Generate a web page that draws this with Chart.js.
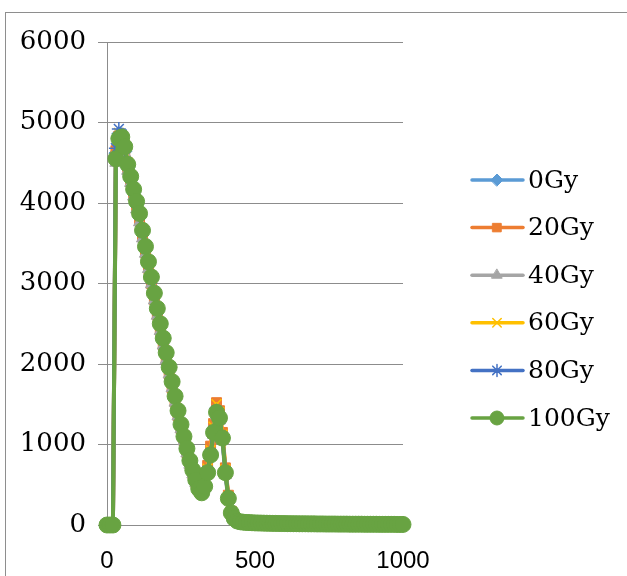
<!DOCTYPE html>
<html>
<head>
<meta charset="utf-8">
<script src="https://cdn.jsdelivr.net/npm/chart.js@4/dist/chart.umd.min.js"></script>
<style>
  html, body { margin: 0; padding: 0; background: #fff; }
  #wrap { position: relative; width: 627px; height: 576px; overflow: hidden; }
  #frame { position: absolute; left: 5px; top: 12px; width: 700px; height: 700px; border: 1px solid #8e8e8e; box-sizing: border-box; }
  #c { position: absolute; left: 0; top: 0; }
</style>
</head>
<body>
<div id="wrap">
  <div id="frame"></div>
  <canvas id="c" width="627" height="576"></canvas>
</div>
<script>
// ---- data ----
const xValues = [
  0,10,20,30,40,50,60,70,80,90,
  100,110,120,130,140,150,160,170,180,190,
  200,210,220,230,240,250,260,270,280,290,
  300,310,320,330,340,350,360,370,380,390,
  400,410,420,430,440,450,460,470,480,490,
  500,510,520,530,540,550,560,570,580,590,
  600,610,620,630,640,650,660,670,680,690,
  700,710,720,730,740,750,760,770,780,790,
  800,810,820,830,840,850,860,870,880,890,
  900,910,920,930,940,950,960,970,980,990,
  1000
];
const seriesNames = ['0Gy','20Gy','40Gy','60Gy','80Gy','100Gy'];
const gy0 = [
  0,0,0,4620,4860,4790,4640,4440,4290,4130,
  3990,3830,3630,3440,3250,3050,2860,2660,2480,2300,
  2120,1940,1760,1580,1410,1240,1090,940,790,670,
  550,460,420,500,690,910,1190,1450,1360,1090,
  670,350,160,85,55,42,37,33,31,29,
  27,26,25,24,23,22,21,20,19,19,
  18,18,17,17,16,16,15,15,15,14,
  14,14,13,13,13,12,12,12,12,11,
  11,11,11,10,10,10,10,10,9,9,
  9,9,9,8,8,8,8,8,8,7,
  7
];
const gy20 = [
  0,0,0,4650,4830,4760,4600,4420,4260,4090,
  3940,3780,3580,3380,3190,3000,2800,2610,2420,2240,
  2060,1880,1700,1530,1360,1200,1050,900,760,640,
  530,440,430,540,740,980,1260,1520,1420,1150,
  710,370,170,90,58,45,38,34,32,30,
  28,27,26,25,24,23,22,21,20,20,
  19,19,18,18,17,17,16,16,16,15,
  15,15,14,14,14,13,13,13,13,12,
  12,12,12,11,11,11,11,11,10,10,
  10,10,10,9,9,9,9,9,9,8,
  8
];
const gy40 = [
  0,0,0,4500,4760,4740,4620,4400,4250,4080,
  3920,3760,3560,3370,3180,2990,2790,2600,2410,2230,
  2050,1870,1700,1520,1350,1190,1040,890,750,630,
  520,430,390,460,630,850,1120,1360,1300,1050,
  620,320,140,75,48,38,33,30,28,26,
  25,24,23,22,21,20,19,19,18,17,
  17,16,16,15,15,15,14,14,14,13,
  13,13,12,12,12,12,11,11,11,11,
  10,10,10,10,10,9,9,9,9,9,
  8,8,8,8,8,8,7,7,7,7,
  7
];
const gy60 = [
  0,0,0,4580,4870,4840,4720,4500,4340,4180,
  4030,3880,3670,3470,3280,3090,2890,2700,2510,2330,
  2150,1970,1790,1610,1430,1260,1110,960,810,690,
  570,460,420,510,700,930,1220,1500,1400,1120,
  690,350,160,85,55,42,36,33,31,29,
  27,26,25,24,23,22,21,20,19,19,
  18,18,17,17,16,16,15,15,15,14,
  14,14,13,13,13,12,12,12,12,11,
  11,11,11,10,10,10,10,10,9,9,
  9,9,9,8,8,8,8,8,8,7,
  7
];
const gy80 = [
  0,0,0,4680,4920,4850,4680,4470,4310,4150,
  4000,3850,3640,3450,3260,3060,2870,2670,2490,2310,
  2130,1950,1770,1590,1410,1240,1090,940,800,680,
  560,460,410,490,670,890,1170,1420,1340,1080,
  660,340,155,82,52,41,36,32,30,28,
  26,25,24,23,22,21,20,20,19,18,
  18,17,17,16,16,15,15,15,14,14,
  14,13,13,13,12,12,12,12,11,11,
  11,11,10,10,10,10,10,9,9,9,
  9,9,8,8,8,8,8,8,7,7,
  7
];
const gy100 = [
  0,0,0,4550,4800,4820,4700,4480,4330,4170,
  4020,3870,3660,3460,3270,3080,2880,2690,2500,2320,
  2140,1960,1780,1600,1420,1250,1100,950,800,680,
  560,450,400,480,650,870,1150,1400,1330,1080,
  650,330,150,80,50,40,35,32,30,28,
  26,25,24,23,22,21,20,20,19,18,
  18,17,17,16,16,15,15,15,14,14,
  14,13,13,13,12,12,12,12,11,11,
  11,11,10,10,10,10,10,9,9,9,
  9,9,8,8,8,8,8,8,7,7,
  7
];
const yTicks = [0,1000,2000,3000,4000,5000,6000];
const xTicks = [0,500,1000];

// ---- styles ----
const seriesValues = [gy0, gy20, gy40, gy60, gy80, gy100];
const colors = ['#5B9BD5','#ED7D31','#A5A5A5','#FFC000','#4472C4','#68A342'];
const pointStyles = ['rectRot','rect','triangle','crossRot','star','circle'];
const pointRadii = [7,7,7,7,7,8];
const legendRadii = [6,6,6,6,6,7];

const datasets = seriesNames.map((name, i) => ({
  label: name,
  data: xValues.map((x, k) => ({ x: x, y: seriesValues[i][k] })),
  borderColor: colors[i],
  backgroundColor: colors[i],
  pointBackgroundColor: colors[i],
  pointBorderColor: colors[i],
  pointStyle: pointStyles[i],
  pointRadius: pointRadii[i],
  pointBorderWidth: (pointStyles[i] === 'crossRot' || pointStyles[i] === 'star') ? 1.5 : 1,
  borderWidth: 4,
  tension: 0,
  clip: false,
  order: seriesNames.length - i
}));

const legendPlugin = {
  id: 'sideLegend',
  afterDraw(chart) {
    const ctx = chart.ctx;
    ctx.save();
    seriesNames.forEach((name, i) => {
      const y = 180 + i * 47.6;
      ctx.strokeStyle = colors[i];
      ctx.lineWidth = 3.5;
      ctx.lineCap = 'round';
      ctx.beginPath();
      ctx.moveTo(472, y);
      ctx.lineTo(523, y);
      ctx.stroke();
      ctx.fillStyle = colors[i];
      ctx.strokeStyle = colors[i];
      ctx.lineWidth = (pointStyles[i] === 'crossRot' || pointStyles[i] === 'star') ? 1.5 : 1;
      Chart.helpers.drawPoint(ctx, { pointStyle: pointStyles[i], radius: legendRadii[i], rotation: 0, borderWidth: ctx.lineWidth }, 497, y);
      ctx.fillStyle = '#000';
      ctx.font = '25px "DejaVu Serif"';
      ctx.textBaseline = 'middle';
      ctx.textAlign = 'left';
      ctx.fillText(name, 528, y + 1);
    });
    ctx.restore();
  }
};

new Chart(document.getElementById('c'), {
  type: 'line',
  data: { datasets: datasets },
  options: {
    responsive: false,
    animation: false,
    devicePixelRatio: 1,
    layout: { padding: { left: 0, right: 224, top: 42, bottom: 0 } },
    plugins: { legend: { display: false }, tooltip: { enabled: false } },
    elements: { line: { borderJoinStyle: 'round', borderCapStyle: 'round' } },
    scales: {
      x: {
        type: 'linear',
        min: 0, max: 1000,
        afterBuildTicks: s => { s.ticks = xTicks.map(v => ({ value: v })); },
        afterFit: s => { s.height = 51; s.paddingLeft = 0; s.paddingRight = 0; },
        grid: { display: false },
        border: { display: false },
        ticks: { color: '#000', font: { family: '"Liberation Sans"', size: 24 }, padding: 14, maxRotation: 0,
                 callback: v => String(v) }
      },
      y: {
        min: 0, max: 6000,
        afterBuildTicks: s => { s.ticks = yTicks.map(v => ({ value: v })); },
        afterFit: s => { s.width = 107; s.paddingTop = 0; s.paddingBottom = 0; },
        grid: { color: '#8c8c8c', lineWidth: 1, tickLength: 9, drawTicks: true },
        border: { display: true, color: '#8c8c8c', width: 1 },
        ticks: { color: '#000', font: { family: '"DejaVu Serif"', size: 26 }, padding: 12,
                 callback: v => String(v) }
      }
    }
  },
  plugins: [legendPlugin]
});
</script>
</body>
</html>
